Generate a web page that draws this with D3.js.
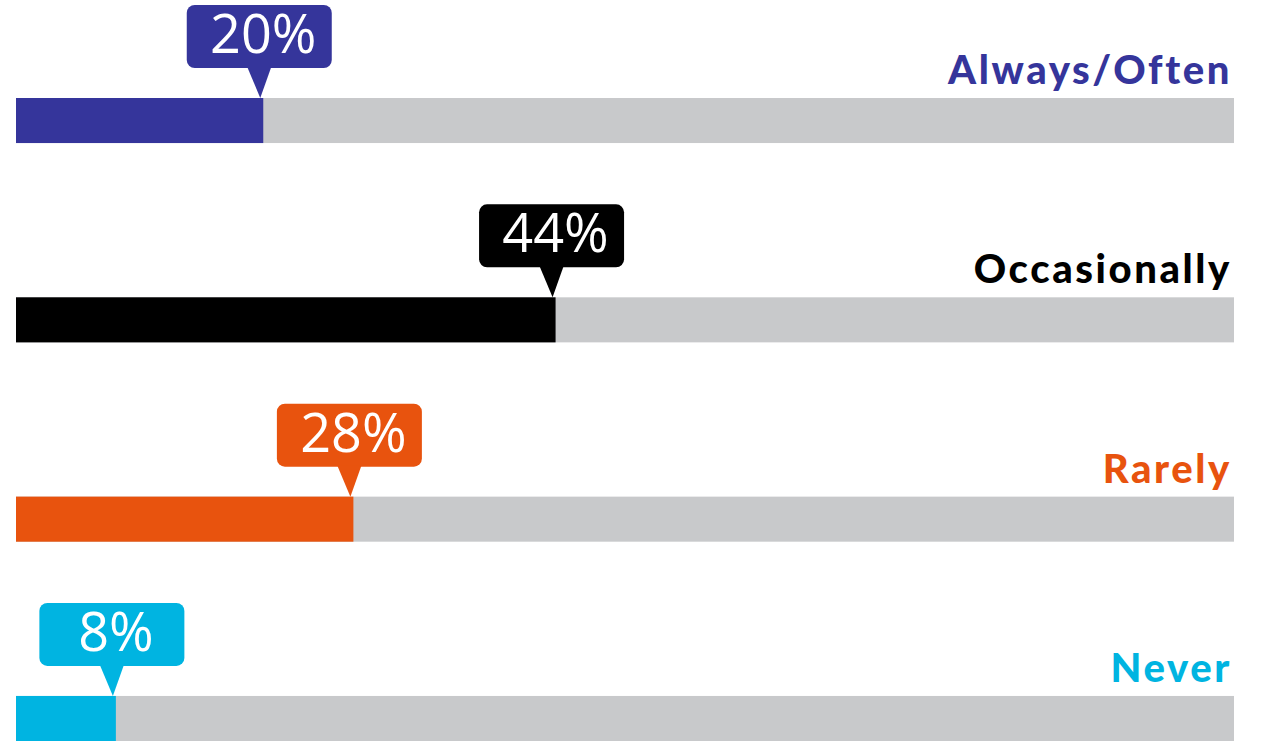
<html>
<meta charset="utf-8">
<script src="https://cdn.jsdelivr.net/npm/d3@7/dist/d3.min.js"></script>
<style>
body { margin: 0; background: #fff; }
</style>
<body>
<svg id="chart"></svg>
<script>
var categories = ["Always/Often", "Occasionally", "Rarely", "Never"];
var values = [20.3, 44.3, 27.7, 8.2];
var labels = ["20%", "44%", "28%", "8%"];
var colors = ["#35359b", "#000000", "#e8530e", "#00b4e1"];

var width = 1263, height = 741;
var svg = d3.select("#chart").attr("width", width).attr("height", height);

var x = d3.scaleLinear().domain([0, 100]).range([16, 1234]);
var y = d3.scaleBand().domain(categories).range([98, 741]).paddingInner(0.774).paddingOuter(0);

var rows = svg.selectAll("g.row").data(categories).enter().append("g")
	.attr("class", "row")
	.attr("transform", function(d){ return "translate(0," + y(d) + ")"; });

// gray track
rows.append("rect")
	.attr("x", x(0)).attr("y", 0)
	.attr("width", x(100) - x(0)).attr("height", y.bandwidth())
	.attr("fill", "#c8c9cb");

// value bar
rows.append("rect")
	.attr("x", x(0)).attr("y", 0)
	.attr("width", function(d, i){ return x(values[i]) - x(0); })
	.attr("height", y.bandwidth())
	.attr("fill", function(d, i){ return colors[i]; });

// category label
rows.append("text")
	.attr("x", 1232).attr("y", -14)
	.attr("text-anchor", "end")
	.style("font-family", "Lato, 'DejaVu Sans', sans-serif")
	.style("font-weight", "900")
	.style("font-size", "40px")
	.style("letter-spacing", "2.6px")
	.attr("fill", function(d, i){ return colors[i]; })
	.text(function(d){ return d; });

// callout
var bw = 145, bh = 63;
var callout = rows.append("g")
	.attr("transform", function(d, i){ return "translate(" + (x(values[i]) - 4) + ",0)"; });

callout.append("rect")
	.attr("x", -bw / 2).attr("y", -93)
	.attr("width", bw).attr("height", bh)
	.attr("rx", 8).attr("ry", 8)
	.attr("fill", function(d, i){ return colors[i]; });

callout.append("path")
	.attr("d", "M-12,-31 L12,-31 L1,0 Z")
	.attr("fill", function(d, i){ return colors[i]; });

callout.append("text")
	.attr("x", 4).attr("y", -45)
	.attr("text-anchor", "middle")
	.style("font-family", "'Open Sans', 'Noto Sans', sans-serif")
	.style("font-weight", "400")
	.style("font-size", "54px")
	.attr("fill", "#fff")
	.text(function(d, i){ return labels[i]; });
</script>
</body>
</html>
